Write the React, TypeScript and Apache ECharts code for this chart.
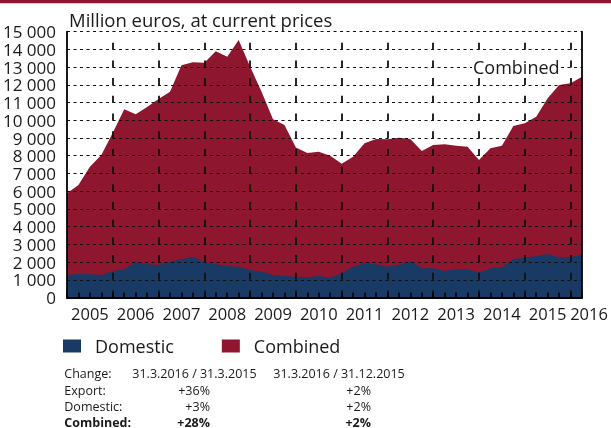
import React, { useEffect, useRef } from "react";
import * as echarts from "echarts";

// Quarterly points, 31.12.2004 ... 31.3.2016 (million euros)
const yearLabels = ["2005", "2006", "2007", "2008", "2009", "2010", "2011", "2012", "2013", "2014", "2015", "2016"];
const combined = [
  5880, 6350, 7380, 8040, 9300, 10620, 10340, 10750, 11200, 11610, 13100, 13280,
  13250, 13890, 13590, 14530, 13025, 11610, 10060, 9735, 8470, 8160, 8230, 8000,
  7550, 7945, 8700, 8945, 8930, 9020, 8945, 8270, 8605, 8645, 8560, 8510,
  7760, 8420, 8570, 9680, 9830, 10200, 11240, 11990, 12090, 12460,
];
const domestic = [
  1270, 1325, 1310, 1270, 1495, 1590, 1985, 1870, 1835, 2020, 2155, 2300,
  1985, 1870, 1775, 1740, 1550, 1455, 1270, 1215, 1175, 1140, 1220, 1120,
  1365, 1740, 1930, 1875, 1740, 1835, 2080, 1650, 1650, 1495, 1590, 1590,
  1400, 1650, 1705, 2170, 2245, 2340, 2455, 2270, 2270, 2440,
];
const title = "Million euros, at current prices";
const changeHeader = ["Change:", "31.3.2016 / 31.3.2015", "31.3.2016 / 31.12.2015"];
const changeRows = [
  ["Export:", "+36%", "+2%"],
  ["Domestic:", "+3%", "+2%"],
  ["Combined:", "+28%", "+2%"],
];

const RED = "#8E162E";
const BLUE = "#193A64";
const FONT = "'Open Sans', sans-serif";
const TXT = "#1a1a1a";

export default function App() {
  const ref = useRef<HTMLDivElement>(null);
  useEffect(() => {
    const chart = echarts.init(ref.current!, null, { renderer: "svg" });
    const xMax = combined.length - 1;
    const hLines: any[] = [];
    for (let v = 1000; v <= 15000; v += 1000) {
      hLines.push({ yAxis: v, lineStyle: { color: "#111", width: 1.2, type: [3, 3.5] } });
    }
    const vLines: any[] = [];
    for (let k = 4; k < xMax; k += 4) {
      vLines.push({ xAxis: k, lineStyle: { color: "#111", width: 1.8, type: [7, 10.7] } });
    }
    chart.setOption({
      animation: false,
      grid: { left: 64.5, right: 29, top: 31.7, bottom: 130.5 },
      xAxis: {
        type: "value", min: 0, max: xMax, interval: 1, z: 10,
        axisLine: { show: true, onZero: false, lineStyle: { color: "#000", width: 2 } },
        axisTick: { show: true, inside: true, length: 5, lineStyle: { color: "#000", width: 1.5 } },
        axisLabel: { show: false },
        splitLine: { show: false },
      },
      yAxis: [
        {
          type: "value", min: 0, max: 15000, interval: 1000, z: 10,
          axisLine: { show: true, lineStyle: { color: "#000", width: 1.8 } },
          axisTick: { show: false },
          splitLine: { show: false },
          axisLabel: {
            color: TXT, fontSize: 17, lineHeight: 15, fontFamily: FONT, margin: 11,
            formatter: (v: number) => v === 0 ? "0" : `${Math.floor(v / 1000)} ${String(v % 1000).padStart(3, "0")}`,
          },
        },
        {
          type: "value", position: "right", min: 0, max: 15000, interval: 1000, z: 10,
          axisLine: { show: true, lineStyle: { color: "#000", width: 1.8 } },
          axisTick: { show: false }, axisLabel: { show: false }, splitLine: { show: false },
        },
      ],
      legend: {
        data: ["Domestic", "Combined"],
        left: 58, top: 332, icon: "rect", itemWidth: 18, itemHeight: 13, itemGap: 48,
        textStyle: { fontSize: 18, fontFamily: FONT, color: TXT, padding: [0, 0, 0, 9] },
      },
      series: [
        {
          name: "Combined", type: "line", symbol: "none", z: 2,
          data: combined.map((v, i) => [i, v]),
          lineStyle: { width: 0 }, itemStyle: { color: RED },
          areaStyle: { color: RED, opacity: 1 },
        },
        {
          name: "Domestic", type: "line", symbol: "none", z: 3,
          data: domestic.map((v, i) => [i, v]),
          lineStyle: { width: 0 }, itemStyle: { color: BLUE },
          areaStyle: { color: BLUE, opacity: 1 },
          markLine: { silent: true, symbol: ["none", "none"], label: { show: false }, z: 5, data: [...hLines, ...vLines] },
        },
      ],
    });

    const graphics: any[] = [];
    graphics.push({ type: "rect", shape: { x: 0, y: 0, width: 611, height: 3.3 }, style: { fill: RED } });
    graphics.push({
      type: "text", x: 69, y: 19.5,
      style: { text: title, fill: TXT, fontSize: 18.5, fontFamily: FONT, align: "left", verticalAlign: "middle" },
    });
    graphics.push({
      type: "text", x: 472, y: 66.5, z: 20,
      style: {
        text: "Combined", fill: TXT, fontSize: 18, fontFamily: FONT, align: "left", verticalAlign: "middle",
        backgroundColor: "#fff", padding: [0, 1, 0, 1], lineHeight: 14,
      },
    });
    yearLabels.forEach((y, j) => {
      let px = chart.convertToPixel({ xAxisIndex: 0 }, 2 + 4 * j) as number;
      px = Math.min(px, 589);
      graphics.push({
        type: "text", x: px, y: 313.5,
        style: { text: y, fill: TXT, fontSize: 16.5, lineHeight: 15, fontFamily: FONT, align: "center", verticalAlign: "middle" },
      });
    });
    const rowY = [373.5, 390, 406.7, 422.5];
    const colX = [64.3, 132.3, 273.3];
    changeHeader.forEach((t, c) => {
      graphics.push({
        type: "text", x: colX[c], y: rowY[0],
        style: { text: t, fill: TXT, fontSize: 12.5, lineHeight: 11, fontFamily: FONT, align: "left", verticalAlign: "middle" },
      });
    });
    const valX = [210, 371];
    changeRows.forEach((row, r) => {
      const bold = r === changeRows.length - 1 ? "bold" : "normal";
      graphics.push({
        type: "text", x: colX[0], y: rowY[r + 1],
        style: { text: row[0], fill: TXT, fontSize: 12.5, lineHeight: 11, fontFamily: FONT, fontWeight: bold, align: "left", verticalAlign: "middle" },
      });
      [row[1], row[2]].forEach((t, c) => {
        graphics.push({
          type: "text", x: valX[c], y: rowY[r + 1],
          style: { text: t, fill: TXT, fontSize: 12.5, lineHeight: 11, fontFamily: FONT, fontWeight: bold, align: "right", verticalAlign: "middle" },
        });
      });
    });
    chart.setOption({ graphic: graphics });
    return () => chart.dispose();
  }, []);
  return <div ref={ref} style={{ position: "fixed", left: 0, top: 0, width: 611, height: 428 }} />;
}
